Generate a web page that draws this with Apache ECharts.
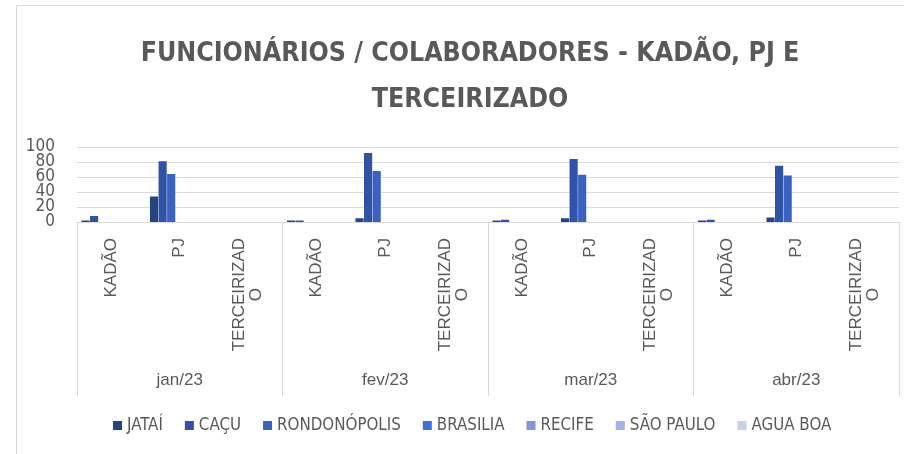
<!DOCTYPE html>
<html>
<head>
    <meta charset="utf-8">
    <script src="https://cdn.jsdelivr.net/npm/echarts@6/dist/echarts.min.js"></script>
    <style>
        body { margin: 0; background: #fff; }
    </style>
</head>
<body>
<div id="main" style="width: 904px;height:454px;"></div>
<script type="text/javascript">
    // categorias (mês / tipo)
    var meses = ['jan/23', 'fev/23', 'mar/23', 'abr/23'];
    var tipos = ['KADÃO', 'PJ', 'TERCEIRIZADO'];
    var cidades = ['JATAÍ', 'CAÇU', 'RONDONÓPOLIS', 'BRASILIA', 'RECIFE', 'SÃO PAULO', 'AGUA BOA'];
    var cores = ['#26447f', '#2f53a6', '#3a62c2', '#3f70d8', '#7f96d8', '#a3b2e2', '#c7d0ee'];
    var yTicks = [0, 20, 40, 60, 80, 100];
    // rótulos do eixo y divididos em dois eixos sobrepostos (evita que o echarts esconda 20 e 80)
    var yLabelsA = [0, 40, 60, 100];
    var yLabelsB = [20, 80];

    // valores por cidade: jan KADÃO, PJ, TERC, fev ..., mar ..., abr ...
    var jatai        = [2, 34, 0,  2, 5, 0,  2, 5, 0,  2, 6, 0];
    var cacu         = [8, 81, 0,  2, 92, 0,  3, 84, 0,  3, 75, 0];
    var rondonopolis = [0, 64, 0,  0, 68, 0,  0, 63, 0,  0, 62, 0];
    var brasilia     = [0, 0, 0,  0, 0, 0,  0, 0, 0,  0, 0, 0];
    var recife       = [0, 0, 0,  0, 0, 0,  0, 0, 0,  0, 0, 0];
    var saoPaulo     = [0, 0, 0,  0, 0, 0,  0, 0, 0,  0, 0, 0];
    var aguaBoa      = [0, 0, 0,  0, 0, 0,  0, 0, 0,  0, 0, 0];
    var valores = [jatai, cacu, rondonopolis, brasilia, recife, saoPaulo, aguaBoa];

    var subCats = [];
    for (var m = 0; m < meses.length; m++) {
        for (var t = 0; t < tipos.length; t++) {
            subCats.push(tipos[t]);
        }
    }

    var cinza = '#595959';
    var linha = '#d9d9d9';
    var narrow = "'Liberation Sans Narrow', 'DejaVu Sans Condensed', sans-serif";
    var sans = "'Liberation Sans', Arial, sans-serif";

    var series = [];
    for (var i = 0; i < cidades.length; i++) {
        series.push({
            name: cidades[i],
            type: 'bar',
            xAxisIndex: 0,
            yAxisIndex: 0,
            data: valores[i],
            barGap: '5%',
            barCategoryGap: '13%',
            itemStyle: { color: cores[i] }
        });
    }

    function yAxisDe(lista, grade) {
        return {
            type: 'value',
            position: 'left',
            min: yTicks[0],
            max: yTicks[yTicks.length - 1],
            interval: 20,
            axisLine: { show: false },
            axisTick: { show: false },
            splitLine: { show: grade, lineStyle: { color: linha } },
            axisLabel: {
                margin: 22,
                showMinLabel: lista.indexOf(yTicks[0]) >= 0,
                showMaxLabel: lista.indexOf(yTicks[yTicks.length - 1]) >= 0,
                fontFamily: narrow,
                fontSize: 17,
                color: cinza,
                formatter: function (v) {
                    return lista.indexOf(v) >= 0 ? String(v) : '';
                }
            }
        };
    }

    var chart = echarts.init(document.getElementById('main'));
    chart.setOption({
        animation: false,
        color: cores,
        title: {
            text: 'FUNCIONÁRIOS / COLABORADORES - KADÃO, PJ E\nTERCEIRIZADO',
            left: 465,
            textAlign: 'center',
            top: 26,
            textStyle: {
                fontFamily: narrow,
                fontWeight: 'bold',
                fontSize: 26.5,
                lineHeight: 46,
                color: cinza
            }
        },
        graphic: [{
            type: 'rect',
            shape: { x: 16.5, y: 5.5, width: 900, height: 460 },
            style: { fill: null, stroke: linha, lineWidth: 1 },
            silent: true
        }],
        legend: {
            data: cidades,
            bottom: 15,
            left: 108,
            itemWidth: 9,
            itemHeight: 9,
            itemGap: 22,
            icon: 'rect',
            textStyle: { fontFamily: narrow, fontSize: 16.8, color: cinza }
        },
        grid: {
            left: 77,
            right: 5,
            top: 147,
            bottom: 232
        },
        xAxis: [{
            type: 'category',
            data: subCats,
            position: 'bottom',
            axisLine: { show: true, lineStyle: { color: linha } },
            axisTick: { show: false },
            axisLabel: {
                interval: 0,
                rotate: 90,
                margin: 16,
                fontFamily: sans,
                fontSize: 17,
                color: cinza,
                formatter: function (v) {
                    if (v === 'TERCEIRIZADO') return 'TERCEIRIZAD\n{o|O}';
                    return v;
                },
                rich: {
                    o: { align: 'center', fontFamily: sans, fontSize: 17, color: cinza }
                }
            }
        }, {
            type: 'category',
            data: meses,
            position: 'bottom',
            axisLine: { show: false },
            axisTick: { show: true, length: 174, lineStyle: { color: linha } },
            axisLabel: {
                interval: 0,
                margin: 150,
                fontFamily: sans,
                fontSize: 17,
                color: cinza
            }
        }],
        yAxis: [yAxisDe(yLabelsA, true), yAxisDe(yLabelsB, false)],
        series: series
    });
</script>
</body>
</html>
